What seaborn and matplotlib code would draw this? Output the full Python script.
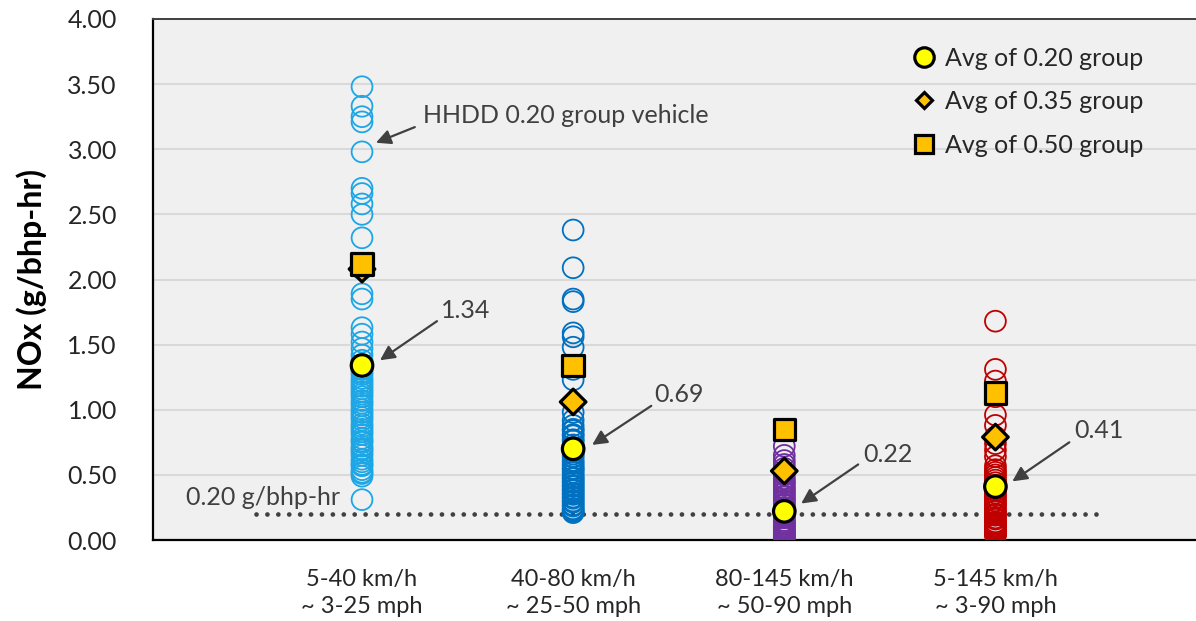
import numpy as np
import pandas as pd
import matplotlib
matplotlib.use("Agg")
import matplotlib.pyplot as plt
from matplotlib.lines import Line2D
import seaborn as sns

# ---------------- data ----------------
categories = ["5-40 km/h\n~ 3-25 mph", "40-80 km/h\n~ 25-50 mph",
              "80-145 km/h\n~ 50-90 mph", "5-145 km/h\n~ 3-90 mph"]
cat_colors = ["#1CA6E6", "#0070C0", "#7030A0", "#C00000"]

vals_5_40 = [3.48, 3.33, 3.25, 3.21, 2.98, 2.70, 2.66, 2.58, 2.50, 2.32, 2.08,
             1.89, 1.85, 1.63, 1.58, 1.52, 1.47, 1.42, 1.38, 1.31, 1.29, 1.27,
             1.24, 1.22, 1.20, 1.18, 1.16, 1.14, 1.12, 1.10, 1.07, 1.05, 1.03,
             1.00, 0.98, 0.96, 0.94, 0.92, 0.89, 0.87, 0.85, 0.83, 0.81, 0.78,
             0.76, 0.75, 0.72, 0.70, 0.69, 0.67, 0.65, 0.62, 0.60, 0.58, 0.57,
             0.54, 0.52, 0.51, 0.49, 0.31]
vals_40_80 = [2.38, 2.09, 1.85, 1.83, 1.59, 1.56, 1.48, 1.31, 1.23, 0.98, 0.92,
              0.88, 0.85, 0.84, 0.81, 0.80, 0.77, 0.76, 0.73, 0.71, 0.68, 0.66,
              0.64, 0.61, 0.59, 0.57, 0.55, 0.54, 0.52, 0.50, 0.48, 0.47, 0.45,
              0.44, 0.42, 0.41, 0.39, 0.38, 0.36, 0.35, 0.33, 0.32, 0.30, 0.29,
              0.27, 0.26, 0.24, 0.23, 0.22, 0.21]
vals_80_145 = [0.72, 0.65, 0.61, 0.58, 0.55, 0.52, 0.50, 0.47, 0.45, 0.44,
               0.42, 0.40, 0.39, 0.37, 0.36, 0.34, 0.33, 0.31, 0.30, 0.28,
               0.27, 0.25, 0.24, 0.23, 0.21, 0.20, 0.18, 0.17, 0.15, 0.14,
               0.13, 0.12, 0.11, 0.10, 0.09, 0.08, 0.07, 0.06, 0.05, 0.04,
               0.03, 0.03, 0.02, 0.02]
vals_5_145 = [1.68, 1.31, 1.22, 1.10, 0.96, 0.88, 0.79, 0.74, 0.69, 0.64, 0.57,
              0.54, 0.52, 0.50, 0.48, 0.46, 0.44, 0.42, 0.40, 0.38, 0.36, 0.34,
              0.32, 0.30, 0.28, 0.27, 0.25, 0.23, 0.22, 0.20, 0.19, 0.17, 0.16,
              0.14, 0.13, 0.12, 0.11, 0.10, 0.09, 0.08, 0.07, 0.06, 0.05, 0.05,
              0.04, 0.04]

avg_020 = [1.34, 0.70, 0.22, 0.41]
avg_035 = [2.08, 1.06, 0.53, 0.79]
avg_050 = [2.12, 1.34, 0.85, 1.13]
avg_groups = ["Avg of 0.20 group", "Avg of 0.35 group", "Avg of 0.50 group"]

ytick_vals = [0.0, 0.5, 1.0, 1.5, 2.0, 2.5, 3.0, 3.5, 4.0]
limit_value = 0.20
callout_values = ["1.34", "0.69", "0.22", "0.41"]

# ---------------- tables ----------------
all_vals = [vals_5_40, vals_40_80, vals_80_145, vals_5_145]
pts = pd.DataFrame({
    "pos": np.concatenate([[i] * len(v) for i, v in enumerate(all_vals)]),
    "nox": np.concatenate(all_vals),
    "cat": np.concatenate([[categories[i]] * len(v) for i, v in enumerate(all_vals)]),
})
avg = pd.DataFrame({
    "pos": list(range(4)) * 3,
    "nox": avg_020 + avg_035 + avg_050,
    "group": [g for g in avg_groups for _ in range(4)],
})

# ---------------- style ----------------
sns.set_style("white")
plt.rcParams["font.family"] = ["Lato", "DejaVu Sans"]
FS = 18
txt_color = "#262626"

fig = plt.figure(figsize=(11.96, 6.21), dpi=100)
ax = fig.add_axes([153 / 1196, 81 / 621, 1043 / 1196, 521 / 621])
ax.set_facecolor("#F0F0F0")

# grid
ax.set_ylim(0, 4.0)
ax.set_xlim(-0.99, 3.95)
ax.set_yticks(ytick_vals)
ax.yaxis.grid(True, color="#D9D9D9", lw=1.5, zorder=0)
ax.xaxis.grid(False)
ax.set_axisbelow(True)

# individual vehicles: hollow circles
sns.scatterplot(data=pts, x="pos", y="nox", hue="cat", palette=cat_colors,
                s=225, linewidth=1.3, legend=False, ax=ax, zorder=3)
coll = ax.collections[-1]
fcs = coll.get_facecolors()
coll.set_edgecolors(fcs)
coll.set_facecolors("none")

# 0.20 g/bhp-hr line
ax.plot([-0.5, 3.5], [limit_value, limit_value], color="#404040", lw=3.4,
        linestyle=(0, (0.01, 2.3)), dash_capstyle="round", zorder=2)
ax.text(-0.47, 0.33, "0.20 g/bhp-hr", ha="center", va="center",
        fontsize=FS, color="#404040")

# averages
sns.scatterplot(data=avg, x="pos", y="nox", hue="group", style="group", size="group",
                palette={avg_groups[0]: "#FFFF00", avg_groups[1]: "#FFC000",
                         avg_groups[2]: "#FFC000"},
                markers={avg_groups[0]: "o", avg_groups[1]: "D", avg_groups[2]: "s"},
                sizes={avg_groups[0]: 240, avg_groups[1]: 170, avg_groups[2]: 240},
                edgecolor="black", linewidth=2.3, legend=False, ax=ax, zorder=6)

# annotations
ann_color = "#404040"
arrow_kw = dict(arrowstyle="-|>", color=ann_color, lw=1.6, mutation_scale=22,
                shrinkA=0, shrinkB=0)
ax.annotate("", xy=(0.066, 3.05), xytext=(0.25, 3.17), arrowprops=arrow_kw, zorder=7)
ax.text(0.29, 3.26, "HHDD 0.20 group vehicle", ha="left", va="center",
        fontsize=FS, color=ann_color)

callout_text_pos = [(0.49, 1.76), (1.50, 1.12), (2.49, 0.66), (3.49, 0.84)]
callout_tail = [(0.355, 1.68), (1.37, 1.03), (2.35, 0.58), (3.35, 0.75)]
callout_head = [(0.085, 1.38), (1.09, 0.73), (2.08, 0.28), (3.08, 0.45)]
for lab, tp, tl, hd in zip(callout_values, callout_text_pos, callout_tail, callout_head):
    ax.annotate("", xy=hd, xytext=tl, arrowprops=arrow_kw, zorder=7)
    ax.text(tp[0], tp[1], lab, ha="center", va="center", fontsize=FS, color=ann_color)

# axes cosmetics
ax.set_xticks(range(4))
ax.set_xticklabels(categories, fontsize=17, linespacing=1.35, color=txt_color)
ax.set_yticklabels([f"{v:.2f}" for v in ytick_vals], fontsize=FS, color=txt_color)
ax.tick_params(axis="y", length=0, pad=26)
ax.tick_params(axis="x", length=0, pad=21)
ax.set_xlabel("")
ax.set_ylabel("NOx (g/bhp-hr)", fontsize=23, fontweight="bold", labelpad=15,
              color="black")

for side in ["left", "bottom"]:
    ax.spines[side].set_color("black")
    ax.spines[side].set_linewidth(1.6)
ax.spines["top"].set_color("#404040")
ax.spines["top"].set_linewidth(1.4)
ax.spines["right"].set_visible(False)

# legend
handles = [
    Line2D([], [], marker="o", ls="", ms=14, mfc="#FFFF00", mec="black", mew=2.3),
    Line2D([], [], marker="D", ls="", ms=8.5, mfc="#FFC000", mec="black", mew=2.3),
    Line2D([], [], marker="s", ls="", ms=13.5, mfc="#FFC000", mec="black", mew=2.3),
]
leg = ax.legend(handles, avg_groups, loc="upper left", bbox_to_anchor=(0.708, 0.99),
                frameon=False, fontsize=FS, handlelength=0.8, handletextpad=0.45,
                labelspacing=0.82)
for t in leg.get_texts():
    t.set_color(txt_color)

fig.savefig("out.png", dpi=100, facecolor="white")
